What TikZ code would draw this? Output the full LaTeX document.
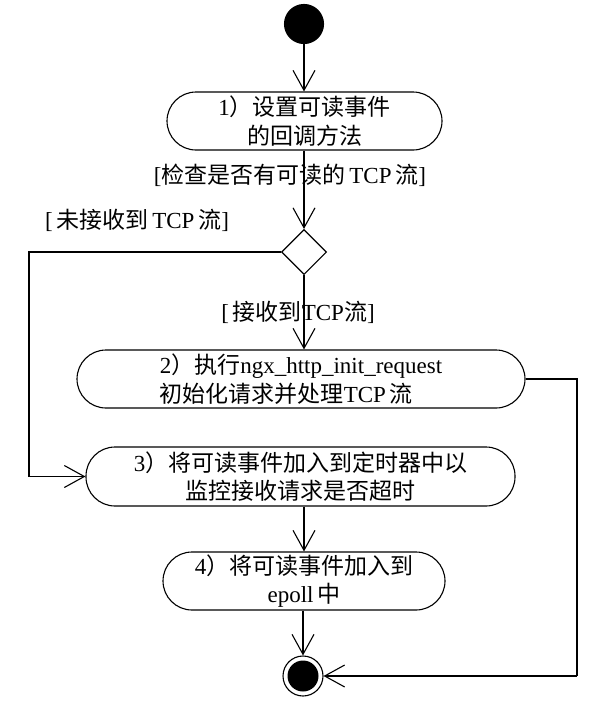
\documentclass[tikz,border=0pt]{standalone}
\usepackage{fontspec}
\setmainfont{Liberation Serif}
\newfontfamily\cjk{Noto Sans CJK SC}
\usetikzlibrary{arrows.meta,shapes.geometric}
\newcommand{\zh}[1]{{\cjk #1}}
\begin{document}
\begin{tikzpicture}[x=1pt,y=-1pt,
  every node/.style={font=\fontsize{23}{28.5}\selectfont},
  line width=1.1pt,
  arr/.style={-{Straight Barb[length=20pt,width=22pt,line width=1.1pt]}},
  actbox/.style={draw,rectangle,rounded corners=29pt,minimum height=58pt,inner sep=0pt},
  lbl/.style={inner sep=0pt}]
\useasboundingbox (0,0) rectangle (593,704);
% nodes
\node[circle,fill=black,draw,minimum size=39pt,inner sep=0pt] (start) at (304,24) {};
\node[actbox,minimum width=275pt,align=center] (b1) at (304.5,121) {1\zh{）设置可读事件}\\\zh{的回调方法}};
\node[diamond,draw,minimum width=45pt,minimum height=45pt,inner sep=0pt] (d) at (304,252) {};
\node[actbox,minimum width=448pt,align=left] (b2) at (301,379) {2\zh{）执行}ngx\_http\_init\_request\\\zh{初始化请求并处理}TCP\,\zh{流}};
\node[actbox,minimum width=429pt,minimum height=59pt,align=center] (b3) at (300.5,476.5) {3\zh{）将可读事件加入到定时器中以}\\\zh{监控接收请求是否超时}};
\node[actbox,minimum width=282pt,align=center] (b4) at (304,581) {4\zh{）将可读事件加入到}\\epoll\,\zh{中}};
\node[circle,draw,minimum size=40pt,inner sep=0pt] (end) at (303,676) {};
\fill (end.center) circle (15.5pt);
% labels
\node[lbl] (l1) at (290,175) {[\zh{检查是否有可读的}\,TCP\,\zh{流}]};
\node[lbl] (l2) at (137,220) {[\,\zh{未接收到}\,TCP\,\zh{流}]};
\node[lbl] (l3) at (298,312) {[\,\zh{接收到}TCP\zh{流}]};
% corner coordinates
\coordinate (lc) at (29,476.5);
\coordinate (rc) at (577,676);
% connectors
\draw[arr] (start) -- (start |- b1.north);
\draw[arr] (d.north |- b1.south) -- (d.north);
\draw (d.west) -| (lc);
\draw[arr] (lc) -- (b3.west);
\draw[arr] (d.south) -- (d.south |- b2.north);
\draw (b2.east) -| (rc);
\draw[arr] (rc) -- (end.east);
\draw[arr] (b4.north |- b3.south) -- (b4.north);
\draw[arr] (end.north |- b4.south) -- (end.north);
\end{tikzpicture}
\end{document}
